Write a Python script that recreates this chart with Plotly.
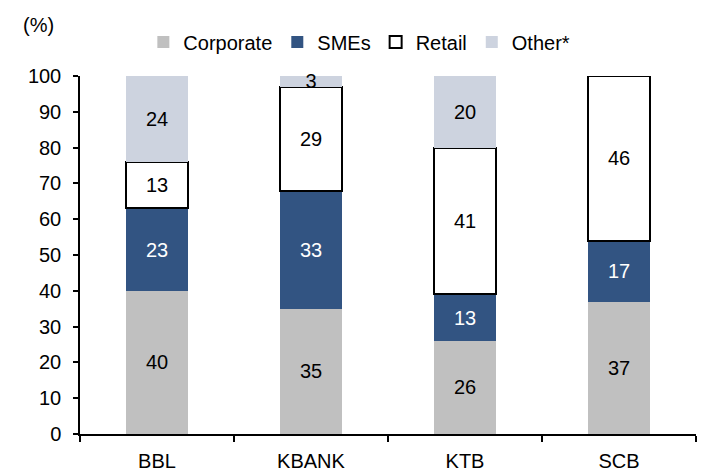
import plotly.graph_objects as go

banks = ["BBL", "KBANK", "KTB", "SCB"]
corporate = [40, 35, 26, 37]
smes = [23, 33, 13, 17]
retail = [13, 29, 41, 46]
other = [24, 3, 20, None]

FONT = "Liberation Sans, Arial, sans-serif"
FS = 20

series = [
    ("Corporate", corporate, "#c0c0c0", "black", 0, "#c0c0c0"),
    ("SMEs", smes, "#325482", "white", 0, "#325482"),
    ("Retail", retail, "#ffffff", "black", 2, "#000000"),
    ("Other*", other, "#cdd3df", "black", 0, "#cdd3df"),
]

fig = go.Figure()
for name, vals, color, tcolor, lw, lcolor in series:
    fig.add_trace(go.Bar(
        x=banks, y=vals, name=name,
        marker=dict(color=color, line=dict(width=lw, color=lcolor)),
        text=[("" if v is None else str(v)) for v in vals],
        textposition="inside", insidetextanchor="middle", textangle=0,
        constraintext="none", cliponaxis=False,
        textfont=dict(family=FONT, size=FS, color=tcolor),
        hoverinfo="x+y+name",
    ))

fig.update_layout(
    width=705, height=476,
    barmode="stack", bargap=0.6,
    plot_bgcolor="white", paper_bgcolor="white",
    margin=dict(l=80, r=9, t=76, b=42, autoexpand=False),
    font=dict(family=FONT, size=FS, color="black"),
    showlegend=True,
    legend=dict(orientation="h", traceorder="normal",
                x=0.4535, xanchor="center", y=1.095, yanchor="middle",
                font=dict(family=FONT, size=FS, color="black"),
                itemwidth=30, bgcolor="rgba(0,0,0,0)"),
    annotations=[dict(text="(%)", xref="paper", yref="paper",
                      x=-0.068, y=1.1425, xanchor="center", yanchor="middle",
                      showarrow=False, font=dict(family=FONT, size=FS, color="black"))],
)
fig.update_xaxes(showline=True, linecolor="black", linewidth=1.5,
                 ticks="outside", tickson="boundaries", ticklen=6,
                 tickcolor="black", tickwidth=1.5, showgrid=False,
                 ticklabelstandoff=8, automargin=False)
fig.update_yaxes(range=[0, 100], dtick=10, showline=True, linecolor="black",
                 linewidth=1.5, ticks="outside", ticklen=5, tickcolor="black",
                 tickwidth=1.5, showgrid=False, zeroline=False,
                 ticklabelstandoff=8, automargin=False)

fig.write_html(
    "out.html",
    config={"displayModeBar": False},
    post_script="document.body.style.margin='0';document.body.style.overflow='hidden';",
)
